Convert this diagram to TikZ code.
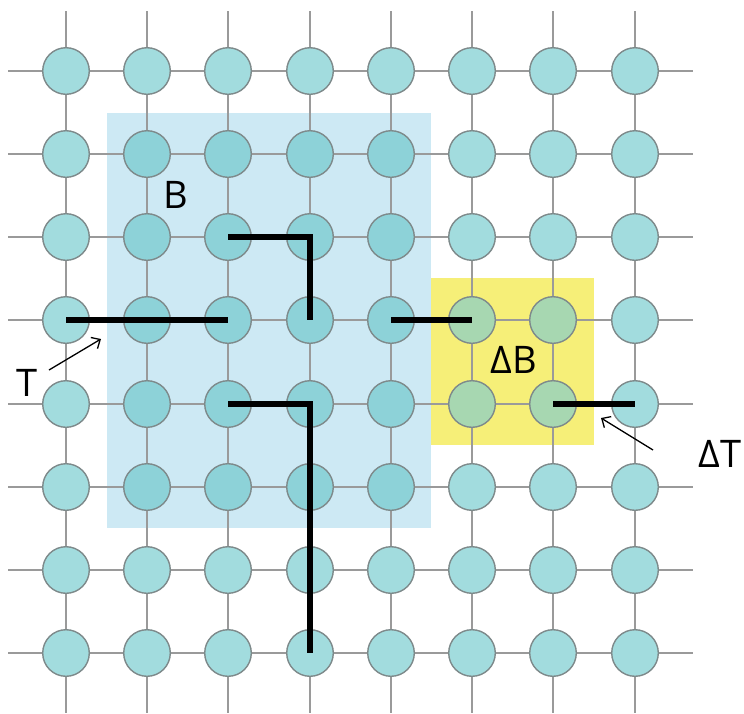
\documentclass[tikz,border=0pt]{standalone}
\usepackage{fontspec}
\setsansfont{Open Sans}
\usetikzlibrary{arrows.meta}
\definecolor{siteplain}{HTML}{A2DCDE}
\definecolor{siteblue}{HTML}{8DD2D8}
\definecolor{siteyellow}{HTML}{A7D7B1}
\definecolor{siteedge}{HTML}{7E8A8B}
\definecolor{bluebg}{HTML}{CDE9F4}
\definecolor{yellowbg}{HTML}{F6EF78}
\definecolor{gridgray}{HTML}{9A9A9A}
\begin{document}
\begin{tikzpicture}[x=1pt,y=-1pt,
  gridline/.style={draw=gridgray,line width=1.8pt},
  site/.style={circle,draw=siteedge,line width=1.4pt,minimum size=46.6pt,inner sep=0pt},
  bond/.style={draw=black,line width=6pt,line cap=butt,line join=miter},
  lbl/.style={font=\sffamily\fontsize{38}{44}\selectfont,inner sep=0pt},
  pointer/.style={draw=black,line width=1.3pt,-{Straight Barb[length=7pt,width=13pt]}}]
\useasboundingbox (0,0) rectangle (744,713);
% shaded blocks B and Delta B
\fill[bluebg] (107,113) rectangle (431,528);
\fill[yellowbg] (431,278) rectangle (594,445);
% lattice lines
\foreach \r/\y in {0/71,1/154,2/237,3/320,4/404,5/487,6/570,7/653}{
  \coordinate (hl\r) at (8,\y);
  \coordinate (hr\r) at (693,\y);
  \draw[gridline] (hl\r) -- (hr\r);
}
\foreach \c/\x in {0/66,1/147,2/228,3/310,4/391,5/472,6/553,7/635}{
  \coordinate (vt\c) at (\x,11);
  \coordinate (vb\c) at (\x,713);
  \draw[gridline] (vt\c) -- (vb\c);
}
% lattice sites
\foreach \r/\y in {0/71,1/154,2/237,3/320,4/404,5/487,6/570,7/653}{
  \foreach \c/\x in {0/66,1/147,2/228,3/310,4/391,5/472,6/553,7/635}{
    \def\fc{siteplain}
    \ifnum\r>0 \ifnum\r<6 \ifnum\c>0 \ifnum\c<5 \def\fc{siteblue}\fi\fi\fi\fi
    \ifnum\r>2 \ifnum\r<5 \ifnum\c>4 \ifnum\c<7 \def\fc{siteyellow}\fi\fi\fi\fi
    \node[site,fill=\fc] (n\r\c) at (\x,\y) {};
  }
}
% bonds
\draw[bond] (n30.center) -- (n32.center);
\draw[bond] (n22.center) -- (n23.center) -- (n33.center);
\draw[bond] (n34.center) -- (n35.center);
\draw[bond] (n42.center) -- (n43.center) -- (n73.center);
\draw[bond] (n46.center) -- (n47.center);
% labels
\node[lbl] (labB) at (176,195) {B};
\node[lbl] (labDB) at (514,360) {ΔB};
\node[lbl] (labT) at (27,383) {T};
\node[lbl] (labDT) at (720,454) {ΔT};
% pointers
\coordinate (tTail) at (49,370);
\coordinate (tHead) at (101,339);
\draw[pointer] (tTail) -- (tHead);
\coordinate (dtTail) at (653,450);
\coordinate (dtHead) at (601,418);
\draw[pointer] (dtTail) -- (dtHead);
\end{tikzpicture}
\end{document}
